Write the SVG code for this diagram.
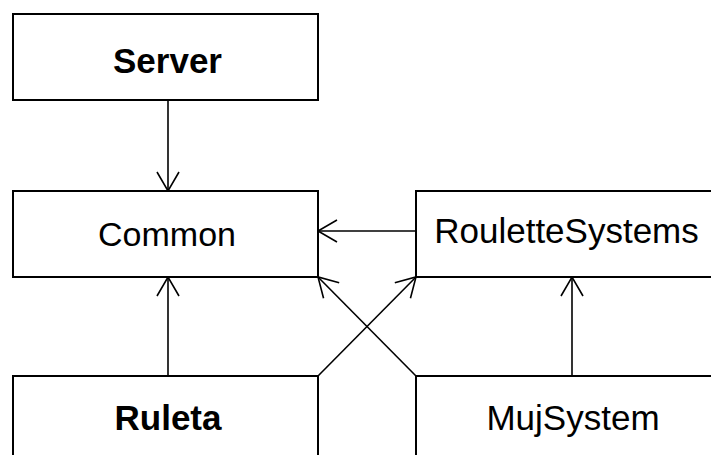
<svg xmlns="http://www.w3.org/2000/svg" width="711" height="455" viewBox="0 0 711 455">
  <style>
    .box { fill: #ffffff; stroke: #000000; stroke-width: 2; }
    .lbl { font-family: "Liberation Sans", Arial, sans-serif; font-size: 35px; fill: #000000; text-anchor: middle; }
    .bold { font-weight: bold; }
    .conn { stroke: #000000; stroke-width: 1.6; fill: none; marker-end: url(#open); }
  </style>
  <defs>
    <marker id="open" markerUnits="userSpaceOnUse" markerWidth="30" markerHeight="30" viewBox="-25 -15 30 30" refX="0" refY="0" orient="auto" overflow="visible">
      <path d="M-19,-11 L0,0 L-19,11" fill="none" stroke="#000000" stroke-width="1.6"/>
    </marker>
  </defs>
  <rect width="711" height="455" fill="#ffffff"/>
  <g id="connectors">
    <path class="conn" d="M168,100 L168,191"/>
    <path class="conn" d="M416,231 L318,231"/>
    <path class="conn" d="M168,376 L168,277"/>
    <path class="conn" d="M572,376 L572,277"/>
    <path class="conn" d="M318,376 L416,277"/>
    <path class="conn" d="M416,376 L318,277"/>
  </g>
  <g id="node-server">
    <rect class="box" x="13" y="14" width="305" height="86"/>
    <text class="lbl bold" x="167.5" y="73">Server</text>
  </g>
  <g id="node-common">
    <rect class="box" x="13" y="191" width="305" height="86"/>
    <text class="lbl" x="167" y="246" style="font-size:34px">Common</text>
  </g>
  <g id="node-roulettesystems">
    <rect class="box" x="416" y="191" width="310" height="86"/>
    <text class="lbl" x="566.5" y="243">RouletteSystems</text>
  </g>
  <g id="node-ruleta">
    <rect class="box" x="13" y="376" width="305" height="100"/>
    <text class="lbl bold" x="168" y="430">Ruleta</text>
  </g>
  <g id="node-mujsystem">
    <rect class="box" x="416" y="376" width="310" height="100"/>
    <text class="lbl" x="573" y="430">MujSystem</text>
  </g>
</svg>
